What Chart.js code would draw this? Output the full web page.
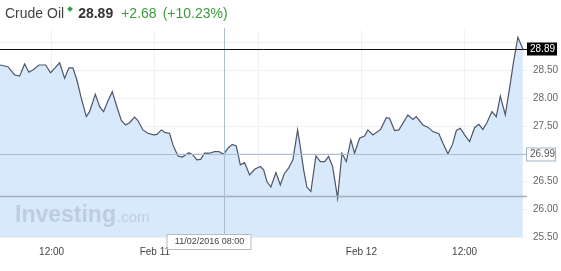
<!DOCTYPE html>
<html lang="en">
<head>
    <meta charset="UTF-8">
    <title>Crude Oil</title>
    <script src="https://cdn.jsdelivr.net/npm/chart.js"></script>
    <style>
        body {
            margin: 0;
            background: #ffffff;
            font-family: Arial, "Liberation Sans", sans-serif;
        }

        .wrap {
            position: relative;
            width: 561px;
            height: 271px;
        }

        .head {
            position: absolute;
            left: 5px;
            top: 5px;
            font-size: 14px;
            color: #444;
            white-space: nowrap;
        }

        .head .dot {
            display: inline-block;
            width: 4px;
            height: 4px;
            background: #2e9e3a;
            transform: rotate(45deg);
            position: relative;
            top: -7px;
            margin: 0 6px 0 4px;
        }

        .head b {
            color: #333;
            margin-right: 8px;
        }

        .head .up {
            color: #3b9b3b;
            margin-right: 6px;
        }
    </style>
</head>
<body>
    <div class="wrap">
        <canvas id="oilChart"></canvas>
        <div class="head">Crude Oil<span class="dot"></span><b>28.89</b><span class="up">+2.68</span><span class="up">(+10.23%)</span></div>
    </div>

    <script>
        // hours since Feb 10 06:00
        const hours = [0, 0.92, 1.70, 2.28, 2.86, 3.36, 3.82, 4.52, 5.30, 5.88,
            6.35, 6.93, 7.51, 8.01, 8.47, 8.94, 9.45, 10.03, 10.41, 11.08,
            11.58, 12.04, 12.54, 13.05, 13.52, 14.10, 14.60, 15.06, 15.64, 16.03,
            16.61, 17.19, 17.85, 18.24, 18.75, 19.21, 19.71, 20.10, 20.68, 21.19,
            21.95, 22.42, 22.88, 23.32, 23.78, 24.36, 24.94, 25.44, 26.00, 26.49,
            26.99, 27.46, 27.93, 28.43, 29.01, 29.59, 30.25, 30.64, 31.02, 31.48,
            32.07, 32.58, 33.04, 33.54, 34.04, 34.59, 34.90, 35.29, 35.67, 36.13,
            36.72, 37.23, 37.73, 38.19, 38.66, 39.24, 39.74, 40.25, 40.78, 41.21,
            41.79, 42.37, 42.76, 43.34, 44.24, 44.90, 45.28, 45.86, 46.36, 47.41,
            47.99, 48.38, 49.15, 49.73, 50.31, 51.01, 51.48, 52.06, 52.57, 53.04,
            53.50, 54.00, 54.58, 55.16, 55.66, 56.12, 56.59, 57.17, 57.68, 58.15,
            58.73, 59.31, 59.69, 60.19, 60.77];
        const prices = [28.60, 28.57, 28.42, 28.40, 28.62, 28.47, 28.51, 28.60, 28.60, 28.46,
            28.54, 28.64, 28.36, 28.55, 28.55, 28.33, 28.00, 27.67, 27.76, 28.07,
            27.85, 27.76, 27.95, 28.12, 27.88, 27.60, 27.52, 27.56, 27.66, 27.60,
            27.43, 27.37, 27.34, 27.35, 27.43, 27.38, 27.37, 27.16, 26.96, 26.94,
            27.02, 26.98, 26.89, 26.90, 27.01, 27.01, 27.04, 27.04, 26.99, 27.10,
            27.17, 27.14, 26.80, 26.84, 26.62, 26.72, 26.77, 26.71, 26.50, 26.40,
            26.66, 26.44, 26.64, 26.74, 26.89, 27.43, 27.13, 26.71, 26.40, 26.32,
            26.96, 26.86, 26.86, 26.95, 26.77, 26.20, 27.01, 26.86, 27.25, 27.01,
            27.28, 27.32, 27.43, 27.34, 27.44, 27.65, 27.64, 27.42, 27.43, 27.70,
            27.62, 27.67, 27.52, 27.48, 27.40, 27.36, 27.19, 27.00, 27.16, 27.42,
            27.46, 27.34, 27.22, 27.47, 27.53, 27.44, 27.56, 27.76, 27.67, 28.04,
            27.70, 28.27, 28.66, 29.10, 28.89];

        const xTickHours = [6, 18, 30, 42, 54];
        const xTickLabels = ['12:00', 'Feb 11', '12:00', 'Feb 12', '12:00'];
        const yTicks = [25.5, 26, 26.5, 27, 27.5, 28, 28.5, 29];

        const lastPrice = 28.89;
        const prevClose = 26.23;
        const crossHour = 26;
        const crossPrice = 26.99;
        const crossLabel = '11/02/2016 08:00';

        const extras = {
            id: 'extras',
            afterDatasetsDraw(chart) {
                const ctx = chart.ctx;
                const a = chart.chartArea;
                const x = chart.scales.x;
                const y = chart.scales.y;
                ctx.save();

                // watermark
                ctx.fillStyle = 'rgba(150, 162, 180, 0.4)';
                ctx.textBaseline = 'alphabetic';
                ctx.font = 'bold 23px Arial, sans-serif';
                ctx.fillText('Investing', 15, 222);
                let w = ctx.measureText('Investing').width;
                ctx.font = '15px Arial, sans-serif';
                ctx.fillText('.com', 15 + w + 1, 222);

                // previous close
                let py = Math.round(y.getPixelForValue(prevClose)) + 0.5;
                ctx.strokeStyle = '#a3adbb';
                ctx.lineWidth = 1.5;
                ctx.beginPath();
                ctx.moveTo(a.left, py);
                ctx.lineTo(a.right, py);
                ctx.stroke();

                // crosshair
                let cx = Math.round(x.getPixelForValue(crossHour)) + 0.5;
                let cy = Math.round(y.getPixelForValue(crossPrice)) + 0.5;
                ctx.strokeStyle = '#a9bed3';
                ctx.lineWidth = 1;
                ctx.beginPath();
                ctx.moveTo(a.left, cy);
                ctx.lineTo(a.right, cy);
                ctx.moveTo(cx, a.top - 2);
                ctx.lineTo(cx, a.bottom);
                ctx.stroke();

                // last price line
                let ly = Math.round(y.getPixelForValue(lastPrice)) + 0.5;
                ctx.strokeStyle = '#111';
                ctx.beginPath();
                ctx.moveTo(a.left, ly);
                ctx.lineTo(a.right, ly);
                ctx.stroke();

                ctx.font = '10px Arial, sans-serif';
                ctx.textBaseline = 'middle';
                ctx.textAlign = 'left';

                // last price box
                ctx.fillStyle = '#000';
                ctx.fillRect(a.right, ly - 7, 30, 13);
                ctx.fillStyle = '#fff';
                ctx.fillText(lastPrice.toFixed(2), a.right + 3, ly);

                // crosshair price box
                ctx.fillStyle = '#fff';
                ctx.fillRect(a.right - 1, cy - 7, 30, 13);
                ctx.strokeStyle = '#9fb3c8';
                ctx.strokeRect(a.right - 0.5, cy - 6.5, 29, 13);
                ctx.fillStyle = '#555';
                ctx.fillText(crossPrice.toFixed(2), a.right + 3, cy);

                // crosshair time box
                ctx.fillStyle = '#fff';
                ctx.fillRect(cx - 57, a.bottom - 3, 84, 15);
                ctx.strokeStyle = '#b5bcc6';
                ctx.strokeRect(cx - 57.5, a.bottom - 2.5, 84, 15);
                ctx.fillStyle = '#444';
                ctx.font = '9px Arial, sans-serif';
                ctx.textAlign = 'center';
                ctx.fillText(crossLabel, cx - 15, a.bottom + 5);

                ctx.restore();
            }
        };

        new Chart(document.getElementById('oilChart'), {
            type: 'line',
            data: {
                datasets: [{
                    data: hours.map((h, i) => ({ x: h, y: prices[i] })),
                    borderColor: '#4d5669',
                    borderWidth: 1.2,
                    backgroundColor: 'rgba(214, 232, 251, 0.95)',
                    fill: 'start',
                    pointRadius: 0,
                    tension: 0
                }]
            },
            options: {
                responsive: true,
                maintainAspectRatio: false,
                animation: false,
                layout: { padding: { top: 30, left: 0, right: 0, bottom: 0 } },
                plugins: {
                    legend: { display: false },
                    tooltip: { enabled: false }
                },
                scales: {
                    x: {
                        type: 'linear',
                        min: 0,
                        max: 61.25,
                        afterBuildTicks: s => { s.ticks = xTickHours.map(v => ({ value: v })); },
                        afterFit: s => { s.height = 34; },
                        grid: { color: '#eef0f3', drawTicks: false },
                        border: { display: false },
                        ticks: {
                            padding: 9,
                            maxRotation: 0,
                            // the 12:00 under the crosshair box is covered
                            color: c => c.tick && Math.abs(c.tick.value - crossHour) < 6 ? 'rgba(0,0,0,0)' : '#444',
                            font: { family: 'Arial', size: 10 },
                            callback: v => xTickLabels[xTickHours.indexOf(v)]
                        }
                    },
                    y: {
                        position: 'right',
                        min: 25.5,
                        max: 29.231,
                        afterBuildTicks: s => { s.ticks = yTicks.map(v => ({ value: v })); },
                        afterFit: s => { s.width = 34; },
                        grid: { color: '#eef0f3', drawTicks: false },
                        border: { display: false },
                        ticks: {
                            padding: 6,
                            color: '#666',
                            font: { family: 'Arial', size: 10 },
                            callback: v => (v === 27 || v === 29) ? '' : v.toFixed(2)
                        }
                    }
                }
            },
            plugins: [extras]
        });
    </script>
</body>
</html>
